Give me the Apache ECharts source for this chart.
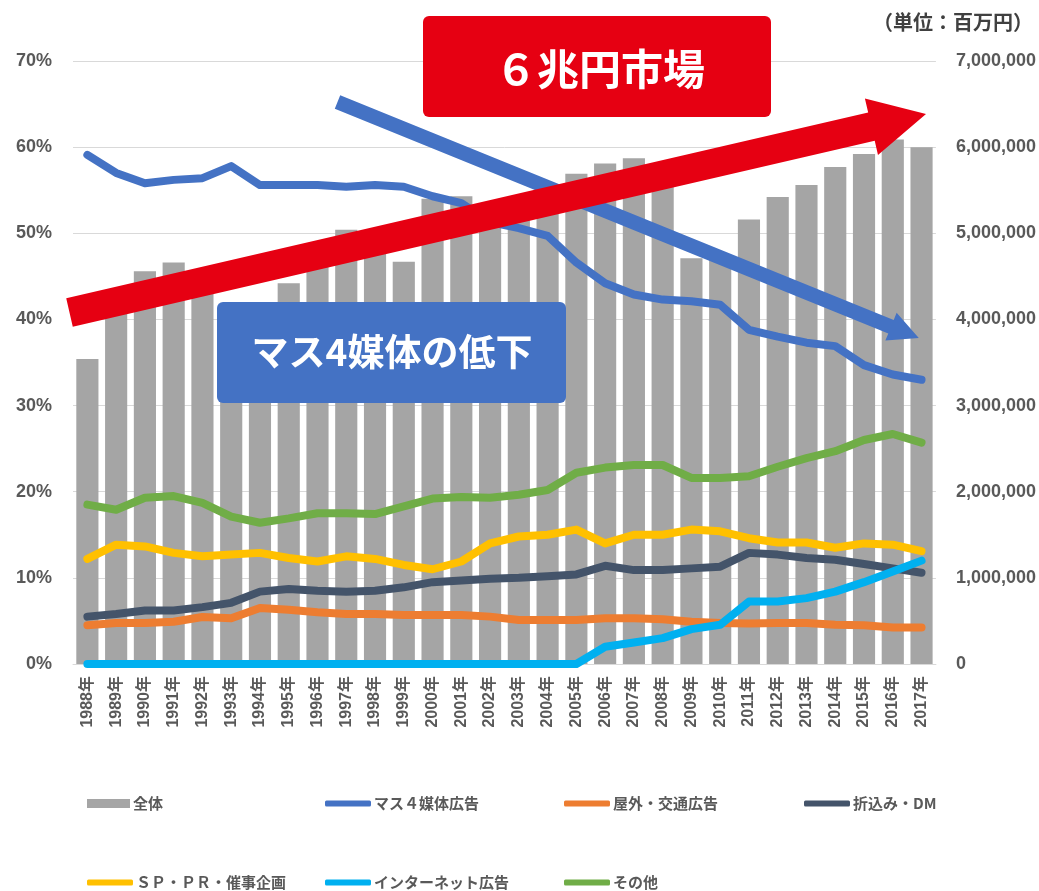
<!DOCTYPE html>
<html>
<head>
<meta charset="utf-8">
<script src="https://cdn.jsdelivr.net/npm/echarts@6/dist/echarts.min.js"></script>
<style>
  html, body { margin: 0; padding: 0; background: #fff; }
  #main { width: 1039px; height: 891px; }
</style>
</head>
<body>
<div id="main"></div>
<script>
var years = ['1988年', '1989年', '1990年', '1991年', '1992年', '1993年', '1994年', '1995年', '1996年', '1997年',
  '1998年', '1999年', '2000年', '2001年', '2002年', '2003年', '2004年', '2005年', '2006年', '2007年',
  '2008年', '2009年', '2010年', '2011年', '2012年', '2013年', '2014年', '2015年', '2016年', '2017年'];

// 全体 (百万円, right axis)
var total = [3540000, 4200000, 4560000, 4660000, 4450000, 3950000, 4000000, 4420000, 4750000, 5040000,
  4950000, 4670000, 5400000, 5430000, 5300000, 5320000, 5450000, 5690000, 5810000, 5870000,
  5600000, 4710000, 4750000, 5160000, 5420000, 5560000, 5770000, 5920000, 6090000, 6000000];

// shares (%, left axis)
var mass4 = [59.1, 57.0, 55.8, 56.2, 56.4, 57.8, 55.6, 55.6, 55.6, 55.4,
  55.6, 55.4, 54.3, 53.5, 51.3, 50.6, 49.7, 46.6, 44.2, 42.9,
  42.3, 42.1, 41.7, 38.8, 38.0, 37.3, 36.9, 34.7, 33.6, 33.0];
var outdoor = [4.5, 4.75, 4.75, 4.9, 5.45, 5.3, 6.5, 6.3, 6.0, 5.8,
  5.8, 5.7, 5.7, 5.7, 5.5, 5.1, 5.1, 5.1, 5.3, 5.3,
  5.2, 4.9, 4.75, 4.7, 4.75, 4.75, 4.55, 4.5, 4.25, 4.25];
var insertDM = [5.5, 5.8, 6.2, 6.2, 6.6, 7.1, 8.4, 8.7, 8.5, 8.4,
  8.5, 8.9, 9.5, 9.7, 9.9, 10.0, 10.2, 10.4, 11.4, 10.9,
  10.9, 11.1, 11.3, 12.9, 12.7, 12.3, 12.1, 11.6, 11.1, 10.6];
var spPr = [12.2, 13.85, 13.65, 12.9, 12.5, 12.7, 12.9, 12.3, 11.9, 12.5,
  12.2, 11.5, 11.0, 11.9, 14.0, 14.8, 15.0, 15.6, 14.0, 15.0,
  15.0, 15.6, 15.4, 14.6, 14.1, 14.1, 13.5, 14.0, 13.85, 13.1];
var internet = [0, 0, 0, 0, 0, 0, 0, 0, 0, 0,
  0, 0, 0, 0, 0, 0, 0, 0, 2.0, 2.5,
  3.0, 4.05, 4.55, 7.25, 7.25, 7.65, 8.4, 9.5, 10.75, 12.0];
var others = [18.5, 17.9, 19.3, 19.5, 18.7, 17.1, 16.4, 16.9, 17.5, 17.5,
  17.4, 18.3, 19.2, 19.4, 19.3, 19.65, 20.2, 22.2, 22.8, 23.1,
  23.1, 21.6, 21.6, 21.8, 22.9, 23.9, 24.7, 26.0, 26.7, 25.7];

var lineNames = ['マス４媒体広告', '屋外・交通広告', '折込み・DM', 'ＳＰ・ＰＲ・催事企画', 'インターネット広告', 'その他'];
var lineData = [mass4, outdoor, insertDM, spPr, internet, others];
var lineColors = ['#4472c4', '#ed7d31', '#44546a', '#ffc000', '#00b0f0', '#70ad47'];

var numFont = '"Liberation Sans", "Noto Sans CJK JP", sans-serif';
var jpFont = '"Noto Sans CJK JP", sans-serif';
var labelColor = '#595959';

function arrowPts(x1, y1, x2, y2, w, hw, hl) {
  var dx = x2 - x1, dy = y2 - y1, L = Math.hypot(dx, dy);
  var ux = dx / L, uy = dy / L, nx = -uy, ny = ux;
  var bx = x2 - ux * hl, by = y2 - uy * hl;
  return [
    [x1 + nx * w, y1 + ny * w], [bx + nx * w, by + ny * w], [bx + nx * hw, by + ny * hw],
    [x2, y2],
    [bx - nx * hw, by - ny * hw], [bx - nx * w, by - ny * w], [x1 - nx * w, y1 - ny * w]
  ];
}

var chart = echarts.init(document.getElementById('main'));

var series = [{
  name: '全体',
  type: 'bar',
  yAxisIndex: 1,
  barCategoryGap: '23%',
  itemStyle: { color: '#a5a5a5' },
  data: total
}];
for (var i = 0; i < lineNames.length; i++) {
  series.push({
    name: lineNames[i],
    type: 'line',
    yAxisIndex: 0,
    symbol: 'none',
    clip: false,
    itemStyle: { color: lineColors[i] },
    lineStyle: { width: 8, color: lineColors[i], cap: 'round', join: 'round' },
    data: lineData[i]
  });
}

// legend slots: two rows, four columns
var legendCols = [82, 320, 559, 799];
var legendRows = [791, 870];
var legends = [];
var allNames = ['全体'].concat(lineNames);
for (var k = 0; k < allNames.length; k++) {
  legends.push({
    data: [{ name: allNames[k], icon: k === 0 ? 'rect' : 'roundRect' }],
    left: legendCols[k % 4],
    top: legendRows[Math.floor(k / 4)],
    itemWidth: k === 0 ? 43 : 46,
    itemHeight: k === 0 ? 9 : 6,
    itemGap: 0,
    selectedMode: false,
    textStyle: { fontFamily: jpFont, fontWeight: 'bold', fontSize: 15, color: labelColor, padding: [0, 0, 0, -2] }
  });
}

var option = {
  animation: false,
  backgroundColor: '#fff',
  grid: { left: 73, right: 103, top: 61, bottom: 227, containLabel: false },
  legend: legends,
  xAxis: {
    type: 'category',
    data: years,
    axisLine: { lineStyle: { color: '#d9d9d9', width: 1 } },
    axisTick: { show: false },
    axisLabel: {
      rotate: 90, margin: 12, interval: 0,
      fontFamily: numFont, fontWeight: 'bold', fontSize: 16, color: labelColor
    }
  },
  yAxis: [{
    type: 'value',
    min: 0, max: 70, interval: 10,
    axisLine: { show: false },
    axisTick: { show: false },
    splitLine: { lineStyle: { color: '#d9d9d9', width: 1 } },
    axisLabel: {
      formatter: '{value}%', margin: 21,
      fontFamily: numFont, fontWeight: 'bold', fontSize: 18, color: labelColor
    }
  }, {
    type: 'value',
    min: 0, max: 7000000, interval: 1000000,
    axisLine: { show: false },
    axisTick: { show: false },
    splitLine: { show: false },
    axisLabel: {
      formatter: function (v) { return String(v).replace(/\B(?=(\d{3})+(?!\d))/g, ','); },
      margin: 20,
      fontFamily: numFont, fontWeight: 'bold', fontSize: 18, color: labelColor
    }
  }],
  graphic: [
    {
      type: 'polygon', z: 100,
      shape: { points: arrowPts(337.5, 102, 918.8, 338, 7.2, 15, 30) },
      style: { fill: '#4472c4' }
    },
    {
      type: 'polygon', z: 101,
      shape: { points: arrowPts(69.5, 312.5, 926, 114, 14.5, 29, 56) },
      style: { fill: '#e60012' }
    },
    {
      type: 'rect', z: 102,
      shape: { x: 423, y: 16, width: 348, height: 101, r: 6 },
      style: { fill: '#e60012' }
    },
    {
      type: 'text', z: 103, x: 600, y: 69,
      style: { text: '６兆円市場', fill: '#fff', font: 'bold 42px "Noto Sans CJK JP"', align: 'center', verticalAlign: 'middle' }
    },
    {
      type: 'rect', z: 102,
      shape: { x: 217, y: 302, width: 349, height: 101, r: 6 },
      style: { fill: '#4472c4' }
    },
    {
      type: 'text', z: 103, x: 392, y: 352,
      style: { text: 'マス4媒体の低下', fill: '#fff', font: 'bold 37px "Noto Sans CJK JP"', align: 'center', verticalAlign: 'middle' }
    },
    {
      type: 'text', z: 103, x: 1033, y: 22,
      style: { text: '（単位：百万円）', fill: '#404040', font: 'bold 20px "Noto Sans CJK JP"', align: 'right', verticalAlign: 'middle' }
    }
  ],
  series: series
};

chart.setOption(option);
</script>
</body>
</html>
